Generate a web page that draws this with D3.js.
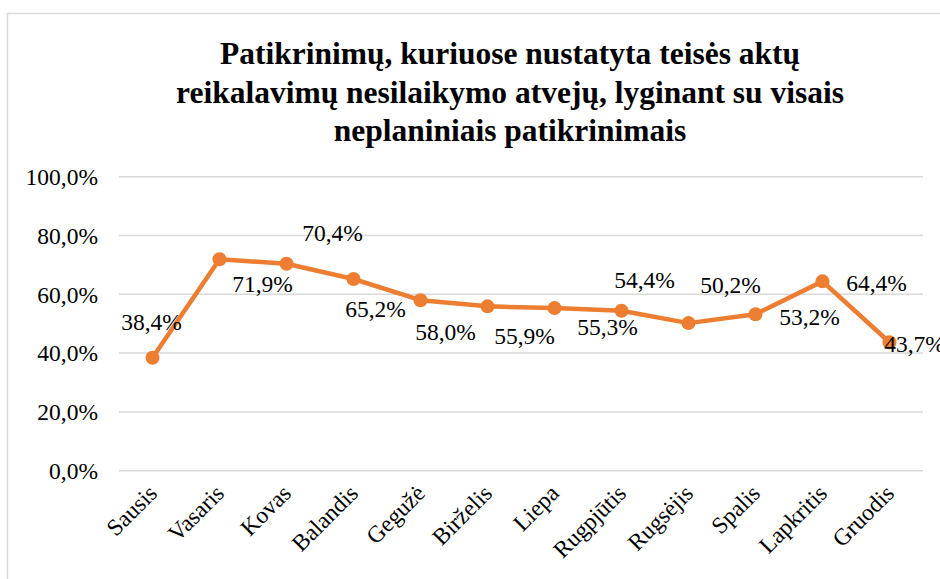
<!DOCTYPE html>
<html>
<head>
<meta charset="utf-8">
<script src="https://cdn.jsdelivr.net/npm/d3@7"></script>
<style>
  body { margin: 0; background: #fff; }
</style>
</head>
<body>
<div class="chart"></div>
<script>
(function() {
  // data
  var months = ["Sausis", "Vasaris", "Kovas", "Balandis", "Gegužė", "Birželis",
    "Liepa", "Rugpjūtis", "Rugsėjis", "Spalis", "Lapkritis", "Gruodis"];
  var values = [38.4, 71.9, 70.4, 65.2, 58.0, 55.9, 55.3, 54.4, 50.2, 53.2, 64.4, 43.7];
  var yTicks = [0, 20, 40, 60, 80, 100];
  var titleLines = [
    "Patikrinimų, kuriuose nustatyta teisės aktų",
    "reikalavimų nesilaikymo atvejų, lyginant su visais",
    "neplaniniais patikrinimais"];

  // label nudges (px) as placed in the original chart
  var labelNudge = [[-1, -36], [43, 24], [46, -31], [22, 30], [25, 32], [37, 29],
    [53, 19], [23, -31], [42, -38], [54, 2], [54, 1], [25, 2]];

  var width = 940, height = 579,
    margin = {top: 176.7, left: 119, right: 17, bottom: 108.3};

  var fmt = function(v) { return v.toFixed(1).replace(".", ",") + "%"; };

  var svg = d3.select(".chart").append("svg")
    .attr("width", width)
    .attr("height", height)
    .attr("font-family", "'Liberation Serif', 'Times New Roman', Times, serif");

  // chart frame
  svg.append("rect")
    .attr("x", 7.5).attr("y", 13.5)
    .attr("width", 940).attr("height", 570)
    .attr("fill", "none")
    .attr("stroke", "#d9d9d9")
    .attr("stroke-width", 1.5);

  // title
  svg.append("text")
    .attr("text-anchor", "middle")
    .attr("font-weight", "bold")
    .attr("font-size", 31.5)
    .selectAll("tspan")
    .data(titleLines).enter()
    .append("tspan")
      .attr("x", 510)
      .attr("y", function(d, i) { return 64 + i * 38.5; })
      .text(function(d) { return d; });

  var x = d3.scaleBand()
    .domain(months)
    .range([margin.left, width - margin.right]);

  var y = d3.scaleLinear()
    .domain([0, 100])
    .range([height - margin.bottom, margin.top]);

  var cx = function(d) { return x(d) + x.bandwidth() / 2; };

  // grid
  svg.append("g")
    .selectAll("line")
    .data(yTicks).enter()
    .append("line")
      .attr("x1", margin.left)
      .attr("x2", width - margin.right)
      .attr("y1", function(d) { return y(d); })
      .attr("y2", function(d) { return y(d); })
      .attr("stroke", "#d9d9d9")
      .attr("stroke-width", 1.5);

  // y axis labels
  svg.append("g")
    .selectAll("text")
    .data(yTicks).enter()
    .append("text")
      .attr("x", 98)
      .attr("y", function(d) { return y(d); })
      .attr("dy", "0.35em")
      .attr("text-anchor", "end")
      .attr("font-size", 23.5)
      .text(fmt);

  // x axis labels
  svg.append("g")
    .selectAll("text")
    .data(months).enter()
    .append("text")
      .attr("text-anchor", "end")
      .attr("font-size", 23.5)
      .attr("transform", function(d) {
        return "translate(" + (cx(d) + 6) + "," + (y(0) + 24) + ") rotate(-45)";
      })
      .text(function(d) { return d; });

  var pts = months.map(function(m, i) { return {m: m, v: values[i], i: i}; });

  // line
  svg.append("path")
    .datum(pts)
    .attr("fill", "none")
    .attr("stroke", "#ed7d31")
    .attr("stroke-width", 4.5)
    .attr("stroke-linejoin", "round")
    .attr("d", d3.line()
      .x(function(d) { return cx(d.m); })
      .y(function(d) { return y(d.v); }));

  svg.append("g")
    .selectAll("circle")
    .data(pts).enter()
    .append("circle")
      .attr("cx", function(d) { return cx(d.m); })
      .attr("cy", function(d) { return y(d.v); })
      .attr("r", 7)
      .attr("fill", "#ed7d31");

  // data labels
  svg.append("g")
    .selectAll("text")
    .data(pts).enter()
    .append("text")
      .attr("x", function(d) { return cx(d.m) + labelNudge[d.i][0]; })
      .attr("y", function(d) { return y(d.v) + labelNudge[d.i][1]; })
      .attr("dy", "0.35em")
      .attr("text-anchor", "middle")
      .attr("font-size", 23.5)
      .text(function(d) { return fmt(d.v); });
})();
</script>
</body>
</html>
